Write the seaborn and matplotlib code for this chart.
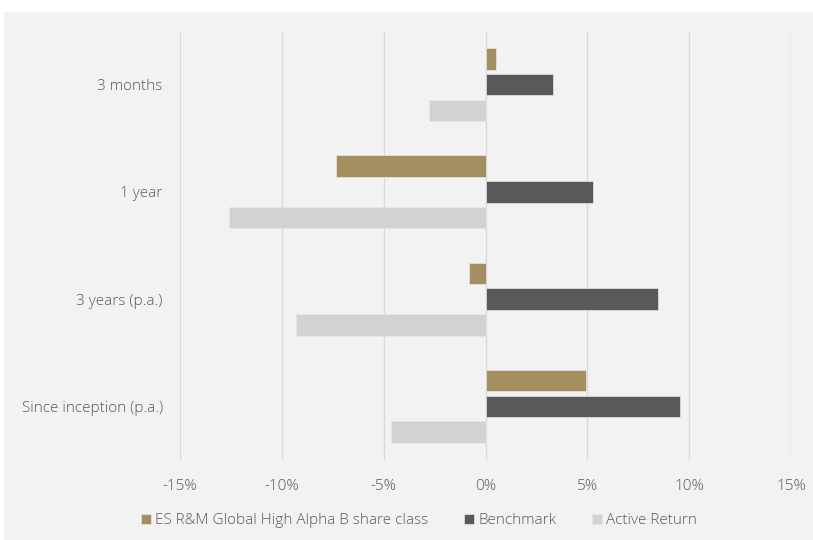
import matplotlib
matplotlib.use("Agg")
import matplotlib.pyplot as plt
import seaborn as sns
import pandas as pd
from matplotlib.patches import Rectangle
from matplotlib.ticker import FuncFormatter

categories = ["3 months", "1 year", "3 years (p.a.)", "Since inception (p.a.)"]
series_names = ["ES R&M Global High Alpha B share class", "Benchmark", "Active Return"]
fund = [0.52, -7.35, -0.83, 4.95]
benchmark = [3.32, 5.27, 8.45, 9.55]
active = [-2.75, -12.6, -9.3, -4.63]
xticks = [-15, -10, -5, 0, 5, 10, 15]
colors = ["#a38f60", "#58595b", "#d1d2d4"]

rows = []
for name, vals in zip(series_names, [fund, benchmark, active]):
    for c, v in zip(categories, vals):
        rows.append({"category": c, "series": name, "value": v})
df = pd.DataFrame(rows)

sns.set_theme(style="white")
plt.rcParams["font.family"] = ["Open Sans", "DejaVu Sans"]

fig = plt.figure(figsize=(8.13, 5.40), dpi=100, facecolor="white")
fig.patches.append(Rectangle((4 / 813, 0), 1, 1 - 12 / 540, transform=fig.transFigure,
                             facecolor="#f2f2f2", edgecolor="none", zorder=-10))
ax = fig.add_axes([180 / 813, 80 / 540, (791 - 180) / 813, (460 - 31) / 540])
ax.set_facecolor("none")

sns.barplot(data=df, y="category", x="value", hue="series", orient="h",
            palette=colors, saturation=1, width=0.72, gap=0.17, ax=ax, order=categories,
            hue_order=series_names, edgecolor="#e8e8e8", linewidth=0.5, zorder=3)

ax.set_xlim(-15, 15)
ax.set_ylim(3.5, -0.5)
ax.set_xticks(xticks)
ax.xaxis.set_major_formatter(FuncFormatter(lambda v, p: f"{int(v)}%"))
ax.grid(axis="x", color="#d9d9d9", linewidth=1.0, zorder=0)
ax.grid(axis="y", visible=False)
for s in ax.spines.values():
    s.set_visible(False)
ax.set_xlabel("")
ax.set_ylabel("")
ax.tick_params(axis="both", length=0, labelsize=11, colors="#595959")
ax.tick_params(axis="x", pad=14)
ax.tick_params(axis="y", pad=12.5)
for lbl in ax.get_xticklabels() + ax.get_yticklabels():
    lbl.set_fontweight("light")

ax.legend_.remove()
handles, labels = ax.get_legend_handles_labels()
leg = fig.legend(handles, labels, loc="center", bbox_to_anchor=(419 / 813, 1 - 521 / 540),
                 ncol=3, frameon=False, handlelength=0.65, handleheight=0.65,
                 handletextpad=0.3, columnspacing=2.3, fontsize=11)
for t in leg.get_texts():
    t.set_color("#595959")
    t.set_fontweight("light")

fig.savefig("out.png", dpi=100, facecolor=fig.get_facecolor())
